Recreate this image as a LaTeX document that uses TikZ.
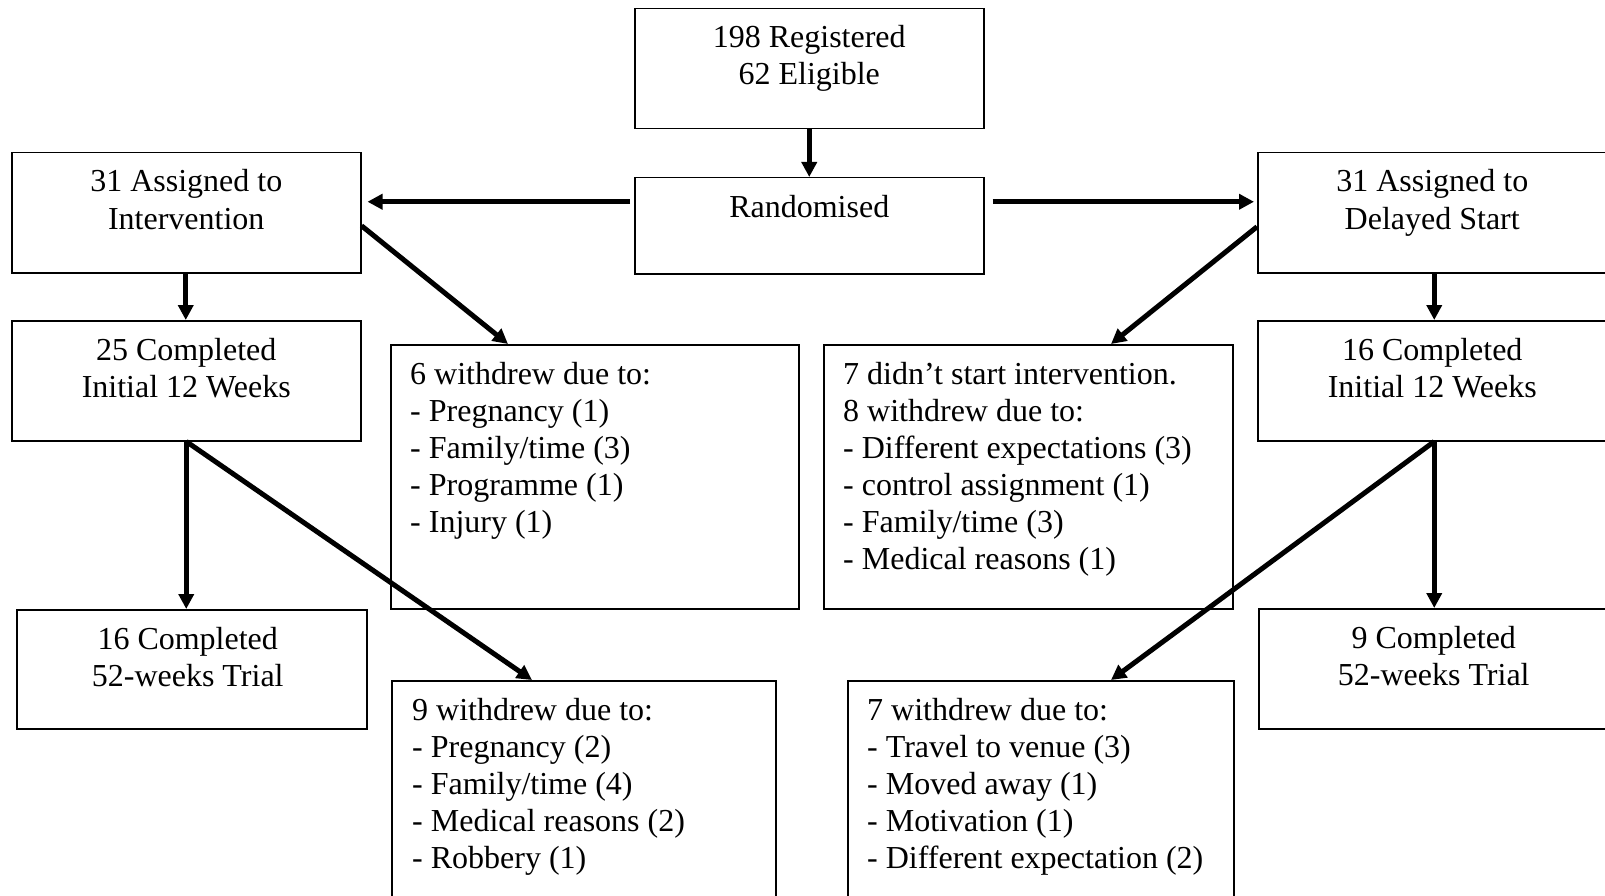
\documentclass[tikz,border=0pt]{standalone}
\usepackage{fontspec}
\setmainfont{Liberation Serif}
\usetikzlibrary{arrows.meta,calc}
\begin{document}
\begin{tikzpicture}[x=1pt,y=-1pt,
  box/.style={draw=black,line width=1.5pt,inner sep=0pt,anchor=north west},
  txtc/.style={inner sep=0pt,align=center,anchor=base,font=\fontsize{32}{37}\selectfont},
  txtl/.style={inner sep=0pt,align=left,anchor=base west,font=\fontsize{32}{37}\selectfont},
  arr/.style={line width=5pt,-{Triangle[length=15pt,width=15pt]}}]
\useasboundingbox (0,0) rectangle (1605,896);
\clip (0,0) rectangle (1605,896);
% boxes
\node[box,minimum width=349pt,minimum height=120pt] (top) at (634,8) {};
\node[box,minimum width=349pt,minimum height=96pt] (rand) at (634,177) {};
\node[box,minimum width=349pt,minimum height=120pt] (la) at (11,152) {};
\node[box,minimum width=353pt,minimum height=120pt] (ra) at (1257,152) {};
\node[box,minimum width=349pt,minimum height=120pt] (c1) at (11,320) {};
\node[box,minimum width=353pt,minimum height=120pt] (rc) at (1257,320) {};
\node[box,minimum width=408pt,minimum height=264pt] (w1) at (390,344) {};
\node[box,minimum width=409pt,minimum height=264pt] (w2) at (823,344) {};
\node[box,minimum width=350pt,minimum height=119pt] (f1) at (16,609) {};
\node[box,minimum width=352pt,minimum height=120pt] (f2) at (1258,608) {};
\node[box,minimum width=384pt,minimum height=225pt] (w3) at (391,680) {};
\node[box,minimum width=386pt,minimum height=225pt] (w4) at (847,680) {};
% texts (base anchor = baseline of last line)
\node[txtc] (ttop) at ([yshift=-77pt]top.north) {198 Registered\\62 Eligible};
\node[txtc] (trand) at ([yshift=-40pt]rand.north) {Randomised};
\node[txtc] (tla) at ([yshift=-77pt]la.north) {31 Assigned to\\Intervention};
\node[txtc] (tra) at ([yshift=-77pt,xshift=-2pt]ra.north) {31 Assigned to\\Delayed Start};
\node[txtc] (tc1) at ([yshift=-77pt]c1.north) {25 Completed\\Initial 12 Weeks};
\node[txtc] (trc) at ([yshift=-77pt,xshift=-2pt]rc.north) {16 Completed\\Initial 12 Weeks};
\node[txtc] (tf1) at ([yshift=-77pt,xshift=-4pt]f1.north) {16 Completed\\52-weeks Trial};
\node[txtc] (tf2) at ([yshift=-77pt,xshift=-1pt]f2.north) {9 Completed\\52-weeks Trial};
\node[txtl] (tw1) at ([xshift=20pt,yshift=-188pt]w1.north west) {6 withdrew due to:\\- Pregnancy (1)\\- Family/time (3)\\- Programme (1)\\- Injury (1)};
\node[txtl] (tw2) at ([xshift=20pt,yshift=-225pt]w2.north west) {7 didn’t start intervention.\\8 withdrew due to:\\- Different expectations (3)\\- control assignment (1)\\- Family/time (3)\\- Medical reasons (1)};
\node[txtl] (tw3) at ([xshift=21pt,yshift=-188pt]w3.north west) {9 withdrew due to:\\- Pregnancy (2)\\- Family/time (4)\\- Medical reasons (2)\\- Robbery (1)};
\node[txtl] (tw4) at ([xshift=20pt,yshift=-188pt]w4.north west) {7 withdrew due to:\\- Travel to venue (3)\\- Moved away (1)\\- Motivation (1)\\- Different expectation (2)};
% connectors
\coordinate (rl) at ([yshift=24pt]rand.west);
\coordinate (rr) at ([yshift=24pt]rand.east);
\draw[arr] (top.south) -- (rand.north);
\draw[arr,shorten <=4pt,shorten >=6pt] (rl) -- (la.east |- rl);
\draw[arr,shorten <=8pt,shorten >=3pt] (rr) -- (ra.west |- rr);
\draw[arr] ([yshift=-13pt]la.east) -- ([xshift=118pt]w1.north west);
\draw[arr] ([yshift=-14pt]ra.west) -- ([xshift=288pt]w2.north west);
\draw[arr] ([xshift=-0.5pt]la.south) -- ([xshift=-0.5pt]c1.north);
\draw[arr] (ra.south) -- (rc.north);
\draw[arr] (c1.south) -- (c1.south |- f1.north);
\draw[arr] (c1.south) -- ([xshift=141pt]w3.north west);
\draw[arr] (rc.south) -- (rc.south |- f2.north);
\draw[arr] (rc.south) -- ([xshift=264pt]w4.north west);
\end{tikzpicture}
\end{document}
